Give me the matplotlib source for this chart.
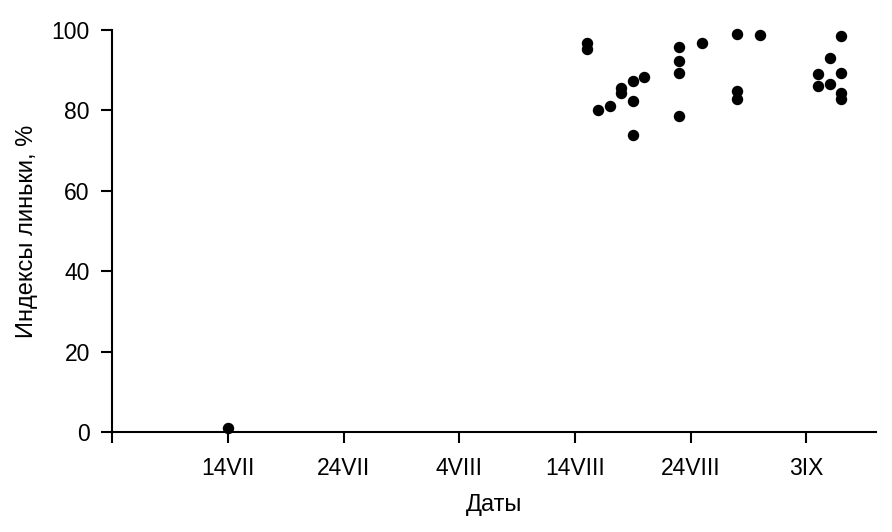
import matplotlib
matplotlib.use("Agg")
import matplotlib.pyplot as plt

plt.rcParams['font.family'] = ['Liberation Sans', 'DejaVu Sans']

# день от начала оси (4 июля), шкала в делениях по 10 дней
days = [10,
        41, 41, 42, 43, 44, 44, 45, 45, 45, 46,
        49, 49, 49, 49, 51,
        54, 54, 54, 56,
        61, 61, 62, 62, 63, 63, 63, 63]
index = [1,
         96.8, 95.2, 80.1, 81.1, 85.5, 84.3, 87.3, 82.3, 73.9, 88.2,
         95.8, 92.3, 89.2, 78.6, 96.7,
         98.9, 84.8, 82.8, 98.8,
         89.0, 86.0, 93.0, 86.6, 98.5, 89.2, 84.3, 82.8]

tick_pos = [0, 10, 20, 30, 40, 50, 60]
tick_labels = ["", "14VII", "24VII", "4VIII", "14VIII", "24VIII", "3IX"]

fig = plt.figure(figsize=(8.92, 5.32), dpi=100)
ax = fig.add_axes([0.1256, 0.188, 0.8564, 0.7555])

ax.scatter(days, index, s=52, color="black", zorder=3, clip_on=False)

ax.set_xlim(0, 66)
ax.set_ylim(0, 100)
ax.set_xticks(tick_pos)
ax.set_xticklabels(tick_labels)
ax.set_yticks(range(0, 101, 20))

for s in ["top", "right"]:
    ax.spines[s].set_visible(False)
for s in ["left", "bottom"]:
    ax.spines[s].set_linewidth(1.5)
    ax.spines[s].set_color("black")

ax.tick_params(axis="both", direction="out", length=8, width=1.5,
               labelsize=16.5, colors="black")
ax.tick_params(axis="x", pad=10)
ax.tick_params(axis="y", pad=8)

ax.set_xlabel("Даты", fontsize=17, labelpad=10)
ax.set_ylabel("Индексы линьки, %", fontsize=17, labelpad=10)

fig.savefig("out.png", dpi=100)
